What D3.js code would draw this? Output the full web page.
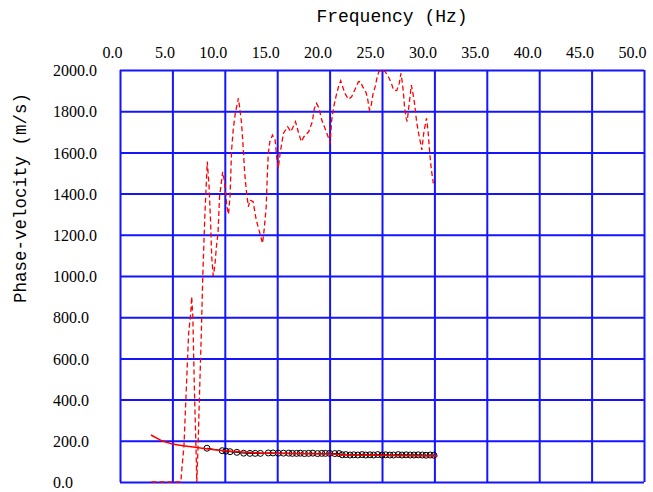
<!DOCTYPE html>
<html>
<head>
<meta charset="utf-8">
<script src="https://cdn.jsdelivr.net/npm/d3@7"></script>
<style>
  html, body { margin: 0; padding: 0; background: #ffffff; }
  svg { display: block; }
</style>
</head>
<body>
<svg id="chart" width="653" height="492"></svg>
<script>
// Axis ticks
const freqTicks = [0, 5, 10, 15, 20, 25, 30, 35, 40, 45, 50];
const velTicks = [0, 200, 400, 600, 800, 1000, 1200, 1400, 1600, 1800, 2000];

// Dispersion image maximum (dashed red trace)
const peakFreq = [3.0, 5.8, 5.95, 6.1, 6.35, 6.55, 6.75, 6.84, 6.95, 7.1, 7.25, 7.33, 7.45, 7.6, 7.75, 7.9, 8.1, 8.33, 8.5, 8.65, 8.75, 8.9, 9.05, 9.2, 9.35, 9.5, 9.8, 9.95, 10.2, 10.35, 10.5, 10.65, 10.8, 11.0, 11.3, 11.45, 11.6, 11.75, 11.9, 12.05, 12.25, 12.4, 12.7, 13.0, 13.35, 13.6, 13.75, 13.95, 14.05, 14.15, 14.3, 14.55, 14.8, 14.95, 15.1, 15.3, 15.6, 16.0, 16.3, 16.75, 17.05, 17.3, 17.55, 18.0, 18.35, 18.55, 18.75, 19.0, 19.25, 19.5, 19.97, 20.05, 20.2, 20.4, 20.6, 20.85, 21.06, 21.25, 21.45, 21.8, 22.1, 22.4, 22.75, 22.97, 23.15, 23.35, 23.5, 23.65, 23.8, 23.95, 24.15, 24.35, 24.55, 24.7, 24.97, 25.3, 25.6, 25.9, 26.1, 26.4, 26.65, 26.8, 26.95, 27.05, 27.15, 27.3, 27.4, 27.8, 27.95, 28.1, 28.3, 28.5, 28.7, 28.8, 29.0, 29.25, 29.4, 29.55, 29.7, 29.85, 29.9];
const peakVel = [0, 0, 91, 171, 480, 722, 819, 900, 802, 447, 171, 0, 180, 450, 705, 1000, 1300, 1555, 1434, 1256, 1094, 1000, 1050, 1142, 1207, 1385, 1506, 1466, 1336, 1300, 1385, 1612, 1709, 1790, 1863, 1806, 1741, 1628, 1498, 1417, 1336, 1369, 1361, 1272, 1207, 1159, 1223, 1336, 1482, 1595, 1652, 1684, 1660, 1579, 1523, 1604, 1693, 1725, 1700, 1749, 1693, 1652, 1676, 1700, 1749, 1814, 1838, 1814, 1757, 1725, 1660, 1644, 1757, 1822, 1870, 1919, 1948, 1919, 1887, 1858, 1870, 1903, 1943, 1943, 1919, 1903, 1887, 1854, 1806, 1822, 1887, 1919, 1968, 1992, 2000, 1992, 1968, 1935, 1903, 1900, 1935, 1984, 1935, 1887, 1822, 1766, 1750, 1927, 1887, 1840, 1750, 1690, 1640, 1612, 1700, 1766, 1700, 1600, 1520, 1466, 1450];

// Picked phase velocities (circles)
const obsFreq = [8.3, 9.75, 10.1, 10.5, 11.15, 11.8, 12.4, 12.9, 13.4, 14.15, 14.6, 15.1, 15.6, 16.1, 16.45, 16.85, 17.2, 17.6, 18.0, 18.4, 18.85, 19.25, 19.6, 20.0, 20.5, 20.9, 21.2, 21.55, 21.95, 22.3, 22.7, 23.1, 23.45, 23.85, 24.2, 24.6, 25.0, 25.35, 25.75, 26.1, 26.55, 26.9, 27.3, 27.7, 28.05, 28.45, 28.85, 29.2, 29.6, 29.95];
const obsVel = [164, 152, 150, 147, 144, 140, 139, 139, 139, 141, 141, 140, 140, 140, 139, 139, 140, 138, 139, 140, 138, 139, 139, 139, 138, 138, 132, 133, 131, 132, 131, 133, 131, 132, 131, 133, 131, 132, 131, 131, 133, 131, 132, 131, 131, 132, 131, 130, 131, 130];

// Theoretical dispersion curve (solid red)
const theoFreq = [2.95, 4.0, 5.0, 6.0, 7.0, 8.0, 9.0, 10.0, 11.0, 12.0, 13.0, 14.0, 16.0, 18.0, 20.0, 21.0, 22.0, 24.0, 26.0, 28.0, 30.3];
const theoVel = [228, 200, 184, 176, 170, 163, 157, 152, 148, 145, 142, 140, 138, 137, 136, 133, 131, 130, 129, 128, 126];

const svg = d3.select("#chart");
svg.append("rect").attr("width", 653).attr("height", 492).attr("fill", "#ffffff");

const plotLeft = 120, plotRight = 644, plotTop = 70, plotBottom = 482;
const x = d3.scaleLinear().domain([0, 50]).range([plotLeft, plotRight]);
const y = d3.scaleLinear().domain([0, 2000]).range([plotBottom, plotTop]);

const gridColor = "#1414ff";
const tickFont = "'Liberation Serif', 'Times New Roman', serif";
const monoFont = "'Liberation Mono', 'Courier New', monospace";

// Frequency axis along the top, its ticks stretched into vertical grid lines
const xg = svg.append("g")
  .attr("transform", `translate(0,${plotTop})`)
  .call(d3.axisTop(x).tickValues(freqTicks).tickSize(-(plotBottom - plotTop)).tickPadding(12).tickFormat(d3.format(".1f")));
xg.select(".domain").remove();
xg.selectAll(".tick line").attr("stroke", gridColor).attr("stroke-width", 2);
xg.selectAll(".tick text")
  .attr("text-anchor", "end").attr("x", 2)
  .attr("fill", "#000").style("font-family", tickFont).style("font-size", "16px");

// Velocity axis on the left, ticks stretched into horizontal grid lines
const yg = svg.append("g")
  .attr("transform", `translate(${plotLeft},0)`)
  .call(d3.axisLeft(y).tickValues(velTicks).tickSize(-(plotRight - plotLeft)).tickPadding(0).tickFormat(d3.format(".1f")));
yg.select(".domain").remove();
yg.selectAll(".tick line").attr("stroke", gridColor).attr("stroke-width", 2);
yg.selectAll(".tick text")
  .attr("text-anchor", "start").attr("x", 53 - plotLeft).attr("dy", "0.36em")
  .attr("fill", "#000").style("font-family", tickFont).style("font-size", "16px");

// Titles
svg.append("text")
  .attr("x", 392).attr("y", 22).attr("text-anchor", "middle")
  .style("font-family", monoFont).style("font-size", "18px").attr("fill", "#000")
  .text("Frequency (Hz)");
svg.append("text")
  .attr("transform", "translate(26,198) rotate(-90)").attr("text-anchor", "middle")
  .style("font-family", monoFont).style("font-size", "17.5px").attr("fill", "#000")
  .text("Phase-velocity (m/s)");

const line = d3.line().x(d => x(d[0])).y(d => y(d[1]));

// Dashed trace
svg.append("path")
  .datum(peakFreq.map((f, i) => [f, peakVel[i]]))
  .attr("d", line).attr("fill", "none")
  .attr("stroke", "#ff0000").attr("stroke-width", 1.3).attr("stroke-dasharray", "5,3");

// Picked points, linked by a thin black line
const obs = obsFreq.map((f, i) => [f, obsVel[i]]);
svg.append("path").datum(obs).attr("d", line)
  .attr("fill", "none").attr("stroke", "#000").attr("stroke-width", 1);
svg.append("g").selectAll("circle").data(obs).join("circle")
  .attr("cx", d => x(d[0])).attr("cy", d => y(d[1])).attr("r", 3)
  .attr("fill", "none").attr("stroke", "#000").attr("stroke-width", 1);

// Theoretical curve
svg.append("path")
  .datum(theoFreq.map((f, i) => [f, theoVel[i]]))
  .attr("d", line).attr("fill", "none")
  .attr("stroke", "#ff0000").attr("stroke-width", 1.5);
</script>
</body>
</html>
